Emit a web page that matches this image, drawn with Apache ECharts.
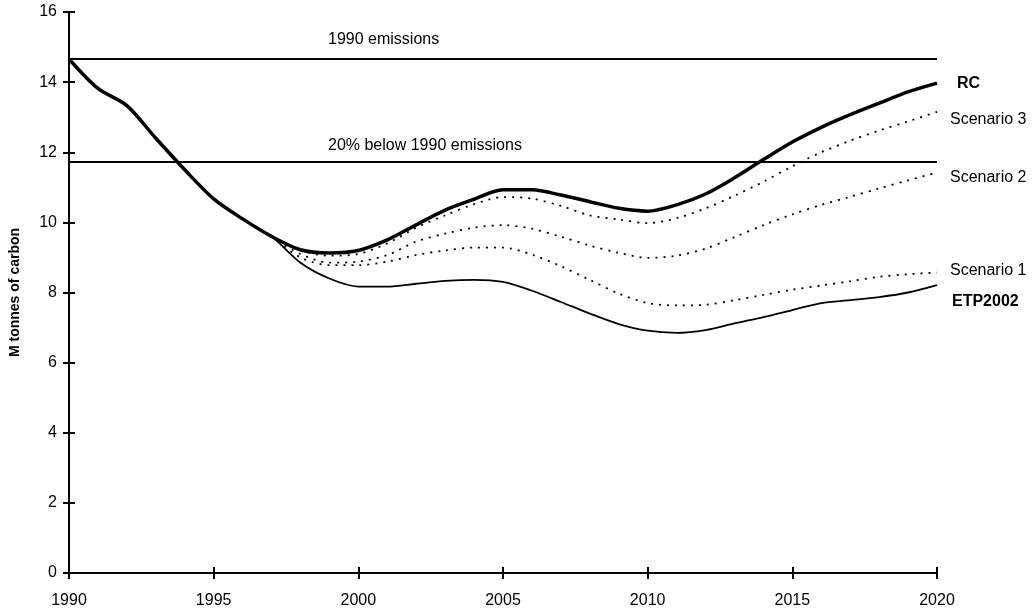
<!DOCTYPE html>
<html>
<head>
<meta charset="utf-8">
<script src="https://cdn.jsdelivr.net/npm/echarts@6/dist/echarts.min.js"></script>
<style>
html,body{margin:0;padding:0;background:#fff;}
#c{width:1032px;height:613px;}
</style>
</head>
<body>
<div id="c"></div>
<script>
const years = [1990,1991,1992,1993,1994,1995,1996,1997,1998,1999,2000,2001,2002,2003,2004,2005,2006,2007,2008,2009,2010,2011,2012,2013,2014,2015,2016,2017,2018,2019,2020];
const rc = [14.66,13.82,13.33,12.4,11.5,10.67,10.1,9.6,9.22,9.13,9.2,9.5,9.93,10.35,10.66,10.93,10.93,10.78,10.59,10.4,10.32,10.5,10.81,11.27,11.79,12.29,12.71,13.07,13.4,13.72,13.97];
const scenario3 = [null,null,null,null,null,null,null,9.6,9.2,9.05,9.1,9.4,9.85,10.2,10.52,10.72,10.68,10.47,10.2,10.08,9.98,10.12,10.4,10.76,11.16,11.6,12.0,12.33,12.62,12.88,13.15];
const scenario2 = [null,null,null,null,null,null,null,9.6,9.1,8.85,8.88,9.07,9.45,9.68,9.85,9.92,9.82,9.59,9.34,9.13,8.99,9.05,9.25,9.58,9.92,10.23,10.5,10.73,10.97,11.2,11.42];
const scenario1 = [null,null,null,null,null,null,null,9.6,9.0,8.78,8.78,8.88,9.07,9.2,9.28,9.28,9.08,8.75,8.36,7.97,7.7,7.63,7.65,7.78,7.93,8.08,8.2,8.32,8.45,8.52,8.57];
const etp2002 = [14.66,13.82,13.33,12.4,11.5,10.67,10.1,9.6,8.85,8.4,8.17,8.17,8.25,8.33,8.36,8.3,8.05,7.73,7.4,7.1,6.91,6.85,6.93,7.12,7.3,7.5,7.7,7.78,7.87,8.0,8.21];
const refValues = [14.66, 11.73];
const refLabels = ['1990 emissions', '20% below 1990 emissions'];
const seriesNames = ['RC', 'Scenario 3', 'Scenario 2', 'Scenario 1', 'ETP2002'];
const xTicks = {min: 1990, max: 2020, interval: 5};
const yTicks = {min: 0, max: 16, interval: 2};

const FONT = 'Liberation Sans, Arial, sans-serif';
const pair = arr => years.map((y, i) => [y, arr[i]]);

function endLabel(name, bold, offset) {
  return {
    show: true,
    formatter: name,
    color: '#000',
    fontFamily: FONT,
    fontSize: 16,
    fontWeight: bold ? 'bold' : 'normal',
    distance: 0,
    offset: offset
  };
}

const tickOnly = (t) => ({
  type: 'value', min: t.min, max: t.max, interval: t.interval,
  axisLine: {show: false},
  axisTick: {show: true, inside: true, length: 6, lineStyle: {color: '#000', width: 2}},
  axisLabel: {show: false},
  splitLine: {show: false}
});

const chart = echarts.init(document.getElementById('c'), null, {renderer: 'canvas'});
chart.setOption({
  backgroundColor: '#fff',
  animation: false,
  grid: {left: 69, right: 95, top: 12, bottom: 40, containLabel: false},
  xAxis: [{
    type: 'value',
    min: xTicks.min, max: xTicks.max, interval: xTicks.interval,
    axisLine: {show: true, lineStyle: {color: '#000', width: 2}},
    axisTick: {show: true, length: 6, lineStyle: {color: '#000', width: 2}},
    axisLabel: {color: '#000', fontFamily: FONT, fontSize: 16, margin: 20, formatter: v => String(v)},
    splitLine: {show: false}
  }, Object.assign(tickOnly(xTicks), {position: 'bottom'})],
  yAxis: [{
    type: 'value',
    min: yTicks.min, max: yTicks.max, interval: yTicks.interval,
    name: 'M tonnes of carbon',
    nameLocation: 'middle',
    nameGap: 47,
    nameTextStyle: {color: '#000', fontFamily: FONT, fontSize: 14, fontWeight: 'bold'},
    axisLine: {show: true, lineStyle: {color: '#000', width: 2}},
    axisTick: {show: true, length: 6, lineStyle: {color: '#000', width: 2}},
    axisLabel: {color: '#000', fontFamily: FONT, fontSize: 16, margin: 12},
    splitLine: {show: false}
  }, Object.assign(tickOnly(yTicks), {position: 'left'})],
  series: [
    {
      name: 'ref', type: 'line', data: [], silent: true,
      markLine: {
        silent: true, symbol: 'none',
        lineStyle: {color: '#000', width: 2, type: 'solid'},
        label: {show: true, position: 'insideStartTop', color: '#000', fontFamily: FONT, fontSize: 16},
        data: [
          {yAxis: refValues[0], label: {formatter: refLabels[0], distance: [259, 11]}},
          {yAxis: refValues[1], label: {formatter: refLabels[1], distance: [259, 8]}}
        ]
      }
    },
    {
      name: seriesNames[4], type: 'line', data: pair(etp2002), showSymbol: false, smooth: 0.3,
      lineStyle: {color: '#000', width: 1.8},
      endLabel: endLabel(seriesNames[4], true, [15, 16])
    },
    {
      name: seriesNames[3], type: 'line', data: pair(scenario1), showSymbol: false, smooth: 0.3,
      lineStyle: {color: '#000', width: 1.8, type: [2, 6]},
      endLabel: endLabel(seriesNames[3], false, [13, -2])
    },
    {
      name: seriesNames[2], type: 'line', data: pair(scenario2), showSymbol: false, smooth: 0.3,
      lineStyle: {color: '#000', width: 1.8, type: [2, 6]},
      endLabel: endLabel(seriesNames[2], false, [13, 5])
    },
    {
      name: seriesNames[1], type: 'line', data: pair(scenario3), showSymbol: false, smooth: 0.3,
      lineStyle: {color: '#000', width: 1.8, type: [2, 6]},
      endLabel: endLabel(seriesNames[1], false, [13, 8])
    },
    {
      name: seriesNames[0], type: 'line', data: pair(rc), showSymbol: false, smooth: 0.3,
      lineStyle: {color: '#000', width: 3.5},
      endLabel: endLabel(seriesNames[0], true, [20, 0])
    }
  ]
});
</script>
</body>
</html>
